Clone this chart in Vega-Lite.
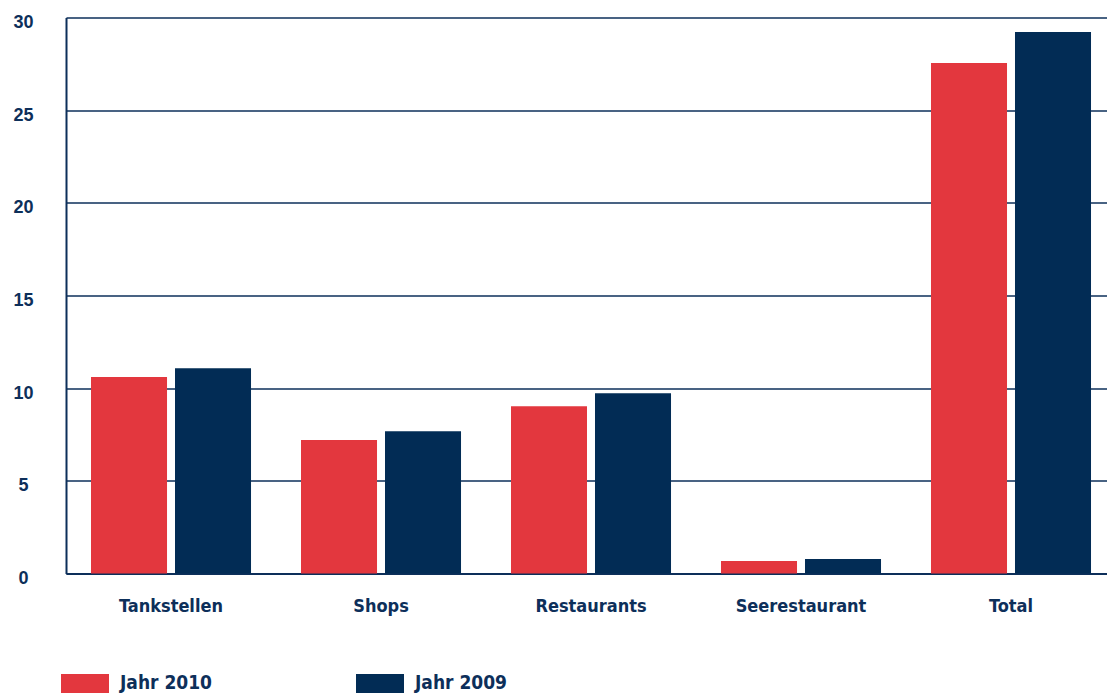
{
  "$schema": "https://vega.github.io/schema/vega-lite/v6.json",
  "autosize": {"type": "none"},
  "width": 1041,
  "height": 556,
  "padding": {"left": 66, "top": 17.5, "right": 0, "bottom": 119.5},
  "background": "#ffffff",
  "data": {
    "values": [
      {"kategorie": "Tankstellen", "jahr": "Jahr 2010", "wert": 10.6},
      {"kategorie": "Tankstellen", "jahr": "Jahr 2009", "wert": 11.07},
      {"kategorie": "Shops", "jahr": "Jahr 2010", "wert": 7.2},
      {"kategorie": "Shops", "jahr": "Jahr 2009", "wert": 7.67},
      {"kategorie": "Restaurants", "jahr": "Jahr 2010", "wert": 9.02},
      {"kategorie": "Restaurants", "jahr": "Jahr 2009", "wert": 9.72},
      {"kategorie": "Seerestaurant", "jahr": "Jahr 2010", "wert": 0.68},
      {"kategorie": "Seerestaurant", "jahr": "Jahr 2009", "wert": 0.78},
      {"kategorie": "Total", "jahr": "Jahr 2010", "wert": 27.55},
      {"kategorie": "Total", "jahr": "Jahr 2009", "wert": 29.22}
    ]
  },
  "mark": {"type": "bar"},
  "encoding": {
    "x": {
      "field": "kategorie",
      "type": "nominal",
      "sort": ["Tankstellen", "Shops", "Restaurants", "Seerestaurant", "Total"],
      "scale": {"paddingInner": 0.238, "paddingOuter": 0.0976, "align": 0.61},
      "axis": {
        "title": null,
        "labelAngle": 0,
        "ticks": false,
        "tickSize": 0,
        "labelPadding": 24,
        "labelFont": "DejaVu Sans Condensed, sans-serif",
        "labelFontWeight": "bold",
        "labelFontSize": 18,
        "labelColor": "#0d2f5a",
        "domainColor": "#0d2f5a",
        "domainWidth": 2
      }
    },
    "xOffset": {
      "field": "jahr",
      "type": "nominal",
      "sort": ["Jahr 2010", "Jahr 2009"],
      "scale": {"paddingInner": 0.095, "paddingOuter": 0}
    },
    "y": {
      "field": "wert",
      "type": "quantitative",
      "scale": {"domain": [0, 30], "nice": false},
      "axis": {
        "title": null,
        "values": [0, 5, 10, 15, 20, 25, 30],
        "ticks": false,
        "tickSize": 0,
        "labelPadding": 43,
        "labelAlign": "center",
        "labelBaseline": "middle",
        "labelOffset": 5,
        "labelFont": "Liberation Sans, sans-serif",
        "labelFontWeight": "bold",
        "labelFontSize": 18,
        "labelColor": "#0d2f5a",
        "domainColor": "#0d2f5a",
        "domainWidth": 2,
        "grid": true,
        "gridColor": "#0d2f5a",
        "gridWidth": 1.5
      }
    },
    "color": {
      "field": "jahr",
      "type": "nominal",
      "sort": ["Jahr 2010", "Jahr 2009"],
      "scale": {"domain": ["Jahr 2010", "Jahr 2009"], "range": ["#e3373e", "#022c55"]},
      "legend": {
        "title": null,
        "orient": "none",
        "direction": "horizontal",
        "legendX": -5,
        "legendY": 641.5,
        "symbolType": "M-1,-0.375H1V0.75H-1Z",
        "symbolSize": 2304,
        "symbolStrokeWidth": 0,
        "symbolOpacity": 1,
        "labelOffset": 11,
        "columnPadding": 143,
        "labelFont": "DejaVu Sans Condensed, sans-serif",
        "labelFontWeight": "bold",
        "labelFontSize": 19,
        "labelColor": "#0d2f5a",
        "labelLimit": 300
      }
    }
  },
  "config": {
    "view": {"stroke": null},
    "axis": {"zindex": 0}
  }
}
